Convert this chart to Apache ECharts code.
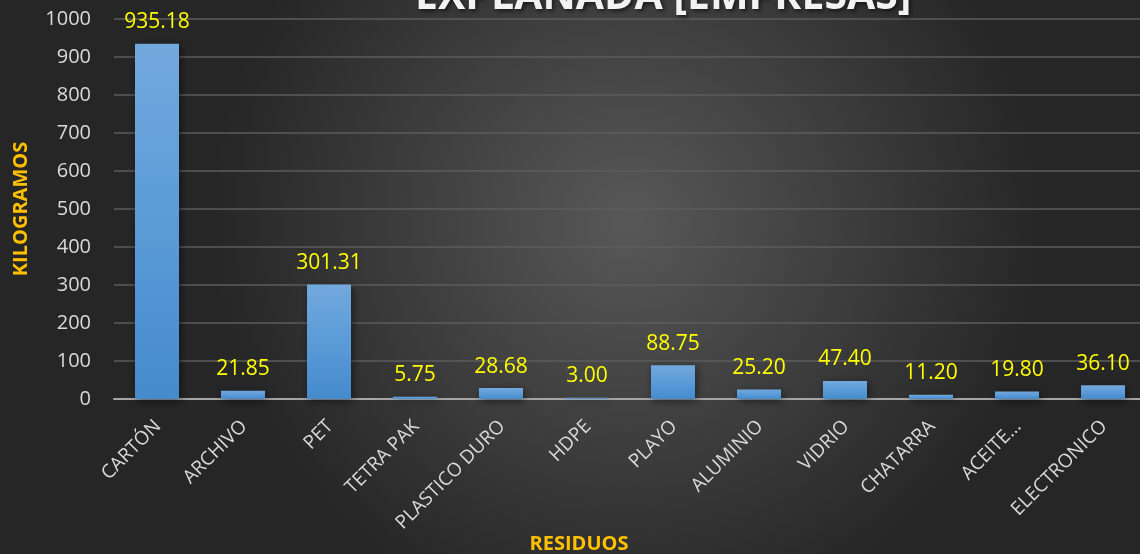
<!DOCTYPE html>
<html><head><meta charset="utf-8">
<script src="https://cdn.jsdelivr.net/npm/echarts@6/dist/echarts.min.js"></script>
<style>html,body{margin:0;padding:0;background:#333}#c{width:1140px;height:554px}</style>
</head><body><div id="c"></div>
<script>
const categories = ['CARTÓN','ARCHIVO','PET','TETRA PAK','PLASTICO DURO','HDPE','PLAYO','ALUMINIO','VIDRIO','CHATARRA','ACEITE…','ELECTRONICO'];
const values = [935.18, 21.85, 301.31, 5.75, 28.68, 3.00, 88.75, 25.20, 47.40, 11.20, 19.80, 36.10];
const titleText = 'EXPLANADA [EMPRESAS]';
const yName = 'KILOGRAMOS';
const xName = 'RESIDUOS';
const font = '"Open Sans", "Liberation Sans", sans-serif';

const chart = echarts.init(document.getElementById('c'));
chart.setOption({
  backgroundColor: {
    type: 'radial', x: 0.55, y: 0.4, r: 0.75,
    colorStops: [{offset: 0, color: '#585858'}, {offset: 1, color: '#262626'}]
  },
  title: {
    text: titleText, left: 410, top: -28,
    textStyle: {color: '#f2f2f2', fontSize: 41, fontWeight: 'bold', fontFamily: font,
      textShadowColor: 'rgba(0,0,0,0.6)', textShadowBlur: 4, textShadowOffsetX: 2, textShadowOffsetY: 2}
  },
  grid: {left: 114, width: 1032, top: 19, bottom: 155, outerBoundsMode: 'none', containLabel: false},
  xAxis: {
    type: 'category', data: categories,
    name: xName, nameLocation: 'middle', nameGap: 135, nameMoveOverlap: false,
    nameTextStyle: {color: '#ffc000', fontSize: 20, fontWeight: 'bold', fontFamily: font, padding: [0, 102, 0, 0]},
    axisLine: {lineStyle: {color: '#a6a6a6', width: 2}},
    axisTick: {show: false},
    axisLabel: {rotate: 45, color: '#d9d9d9', fontSize: 19, fontFamily: font, interval: 0, margin: 12,
      verticalAlign: 'top', padding: [0, 8, 0, 0]}
  },
  yAxis: {
    type: 'value', min: 0, max: 1000, interval: 100,
    name: yName, nameLocation: 'middle', nameGap: 83,
    nameTextStyle: {color: '#ffc000', fontSize: 20, fontWeight: 'bold', fontFamily: font},
    axisLine: {show: false}, axisTick: {show: false},
    axisLabel: {color: '#d9d9d9', fontSize: 20, fontFamily: font, margin: 23, formatter: v => String(v)},
    splitLine: {lineStyle: {color: '#5c5c5c', width: 1.5}}
  },
  series: [{
    type: 'bar', data: values, barWidth: 44,
    itemStyle: {
      color: {type: 'linear', x: 0, y: 0, x2: 0, y2: 1,
        colorStops: [{offset: 0, color: '#72a9dd'}, {offset: 0.5, color: '#5b9bd8'}, {offset: 1, color: '#458bcc'}]},
      shadowColor: 'rgba(0,0,0,0.5)', shadowBlur: 8, shadowOffsetX: 2, shadowOffsetY: 2
    },
    label: {show: true, position: 'top', distance: 11, color: '#ffff00', fontSize: 21, fontFamily: font,
      formatter: p => p.value.toFixed(2)}
  }]
});
</script></body></html>
